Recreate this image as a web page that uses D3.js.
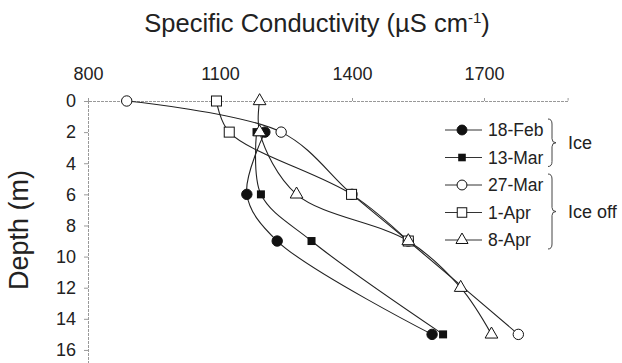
<!DOCTYPE html>
<html>
<head>
<meta charset="utf-8">
<script src="https://cdn.jsdelivr.net/npm/d3@7"></script>
<style>
  body { margin: 0; background: #fff; }
  svg { display: block; font-family: "Liberation Sans", Arial, sans-serif; }
  svg text { font-family: "Liberation Sans", Arial, sans-serif; }
</style>
</head>
<body>
<svg id="vis" width="622" height="363"></svg>
<script>
// conductivity (uS/cm) at each depth (m), one list per sampling date
var dates = ["18-Feb", "13-Mar", "27-Mar", "1-Apr", "8-Apr"];
var depths = {
	"18-Feb": [2, 6, 9, 15],
	"13-Mar": [2, 6, 9, 15],
	"27-Mar": [0, 2, 6, 9, 15],
	"1-Apr":  [0, 2, 6, 9],
	"8-Apr":  [0, 2, 6, 9, 12, 15]
};
var conductivity = {
	"18-Feb": [1202, 1161, 1230, 1582],
	"13-Mar": [1183, 1193, 1308, 1607],
	"27-Mar": [888, 1239, 1400, 1528, 1778],
	"1-Apr":  [1092, 1121, 1399, 1528],
	"8-Apr":  [1190, 1190, 1274, 1528, 1647, 1717]
};
var markers = ["fcircle", "fsquare", "ocircle", "osquare", "otriangle"];
var xTicks = [800, 1100, 1400, 1700];
var yTicks = [0, 2, 4, 6, 8, 10, 12, 14, 16];
var groups = [{label: "Ice", from: 0, to: 1}, {label: "Ice off", from: 2, to: 4}];

var svg = d3.select("#vis");

var x = d3.scaleLinear().domain([800, 1890]).range([88, 567.6]);
var y = d3.scaleLinear().domain([0, 17]).range([101, 365.5]);

// title
svg.append("text")
   .attr("x", 317).attr("y", 32)
   .attr("text-anchor", "middle")
   .style("font-size", "25.5px")
   .style("fill", "#222")
   .html("Specific Conductivity (µS cm<tspan dy='-9' font-size='15px'>-1</tspan><tspan dy='9'>)</tspan>");

// y label
svg.append("text")
   .attr("transform", "translate(28,230) rotate(-90)")
   .attr("text-anchor", "middle")
   .style("font-size", "27px")
   .style("fill", "#222")
   .text("Depth (m)");

// axes (top x axis, left y axis)
var xAxis = d3.axisTop(x).tickValues(xTicks).tickFormat(d3.format("d")).tickSize(3).tickPadding(18);
var gx = svg.append("g").attr("transform", "translate(0," + y(0) + ")").call(xAxis);
var yAxis = d3.axisLeft(y).tickValues(yTicks).tickFormat(d3.format("d")).tickSize(4).tickPadding(8);
var gy = svg.append("g").attr("transform", "translate(" + x(800) + ",0)").call(yAxis);

[gx, gy].forEach(g => {
	g.attr("font-family", null).attr("font-size", null);
	g.select(".domain").attr("stroke", "#999").attr("stroke-dasharray", "3,1");
	g.selectAll(".tick line").attr("stroke", "#999");
	g.selectAll(".tick text").style("font-size", "18px").style("fill", "#222");
});
gx.select(".tick line").remove();
gy.select(".domain").attr("d", "M0.5," + y(0) + "V363");

function drawMarker(sel, kind, size) {
	var s = size || 1;
	if (kind === "fcircle" || kind === "ocircle") {
		sel.append("circle").attr("r", 5.2 * s)
		   .attr("fill", kind === "fcircle" ? "#111" : "#fff")
		   .attr("stroke", "#111").attr("stroke-width", 1);
	} else if (kind === "fsquare") {
		sel.append("rect").attr("x", -4 * s).attr("y", -4 * s)
		   .attr("width", 8 * s).attr("height", 8 * s)
		   .attr("fill", "#111");
	} else if (kind === "osquare") {
		sel.append("rect").attr("x", -5 * s).attr("y", -5 * s)
		   .attr("width", 10 * s).attr("height", 10 * s)
		   .attr("fill", "#fff").attr("stroke", "#111").attr("stroke-width", 1);
	} else {
		sel.append("path")
		   .attr("d", d3.symbol().type(d3.symbolTriangle).size(70 * s * s))
		   .attr("fill", "#fff").attr("stroke", "#111").attr("stroke-width", 1);
	}
}

var line = d3.line()
	.x(d => x(d.v))
	.y(d => y(d.d))
	.curve(d3.curveCatmullRom.alpha(0.5));

var series = dates.map((k, i) => ({
	key: k,
	marker: markers[i],
	pts: depths[k].map((d, j) => ({d: d, v: conductivity[k][j]}))
}));

svg.selectAll("path.series")
   .data(series)
   .enter()
   .append("path")
   .attr("class", "series")
   .attr("d", s => line(s.pts))
   .attr("fill", "none")
   .attr("stroke", "#222")
   .attr("stroke-width", 1.1);

series.forEach(s => {
	svg.selectAll("g.m-" + s.marker)
	   .data(s.pts)
	   .enter()
	   .append("g")
	   .attr("class", "m-" + s.marker)
	   .attr("transform", d => "translate(" + x(d.v) + "," + y(d.d) + ")")
	   .each(function() { drawMarker(d3.select(this), s.marker); });
});

// legend
var legY = d3.scalePoint().domain(dates).range([130, 240]);
var leg = svg.selectAll("g.legend")
	.data(series)
	.enter()
	.append("g")
	.attr("class", "legend")
	.attr("transform", s => "translate(462," + legY(s.key) + ")");
leg.append("line").attr("x1", -17).attr("x2", 20).attr("stroke", "#333").attr("stroke-width", 1);
leg.each(function(s) { drawMarker(d3.select(this), s.marker, 0.95); });
leg.append("text")
   .attr("x", 26).attr("dy", "0.36em")
   .style("font-size", "17.5px").style("fill", "#222")
   .text(s => s.key);

// braces for the ice groups
function brace(x0, y0, y1) {
	var m = (y0 + y1) / 2;
	return "M" + x0 + "," + y0 + " Q" + (x0 + 4) + "," + y0 + " " + (x0 + 4) + "," + (y0 + 5) +
	       " L" + (x0 + 4) + "," + (m - 4) + " Q" + (x0 + 4) + "," + m + " " + (x0 + 8) + "," + m +
	       " Q" + (x0 + 4) + "," + m + " " + (x0 + 4) + "," + (m + 4) +
	       " L" + (x0 + 4) + "," + (y1 - 5) + " Q" + (x0 + 4) + "," + y1 + " " + x0 + "," + y1;
}
groups.forEach(g => {
	var y0 = legY(dates[g.from]) - 11, y1 = legY(dates[g.to]) + 9;
	svg.append("path").attr("d", brace(548, y0, y1))
	   .attr("fill", "none").attr("stroke", "#444").attr("stroke-width", 1);
	svg.append("text")
	   .attr("x", 568).attr("y", (y0 + y1) / 2).attr("dy", "0.36em")
	   .style("font-size", "18px").style("fill", "#222")
	   .text(g.label);
});
</script>
</body>
</html>
